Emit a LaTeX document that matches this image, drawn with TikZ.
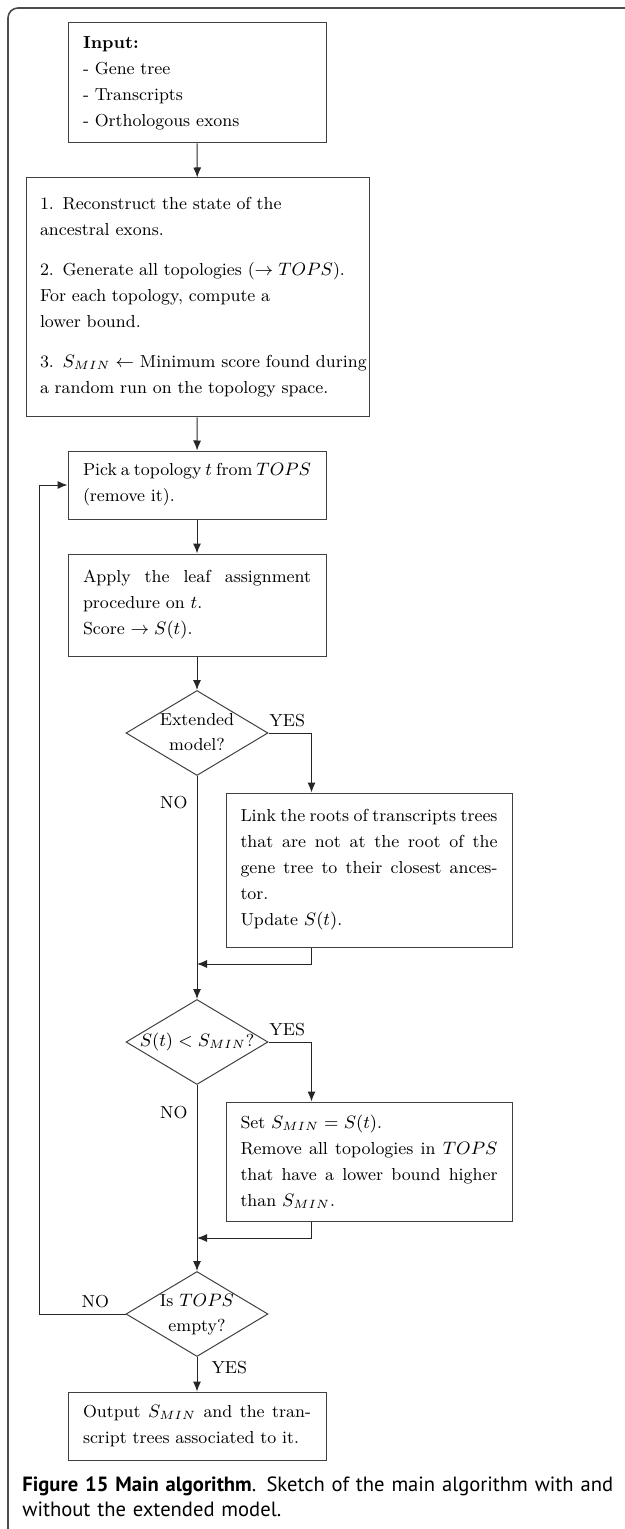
\documentclass[tikz,border=0pt]{standalone}
\usepackage{fontspec}
\newfontfamily\capfont{PT Sans}
\usetikzlibrary{shapes.geometric,arrows.meta,positioning,calc}

% volle Zeile (Blocksatz) mit fester Breite
\newcommand\fline[2]{\leavevmode\hbox to #1{\spaceskip=0pt\xspaceskip=0pt #2}}

\tikzset{
  block/.style={draw=black!75, line width=0.5pt, rectangle, inner xsep=7.5pt, inner ysep=0pt,
    align=left, font=\fontsize{8.7}{13}\selectfont},
  decision/.style={draw=black!75, line width=0.5pt, diamond, inner sep=0pt,
    minimum width=71pt, minimum height=42.5pt},
  flow/.style={draw=black!85, line width=0.5pt, -{Latex[length=5pt,width=4pt]}},
  answer/.style={font=\fontsize{8.7}{11}\selectfont, inner sep=1.5pt},
}

\begin{document}
\begin{tikzpicture}[x=0.5pt,y=-0.5pt]
  \useasboundingbox (0,0) rectangle (625,1529);

  % Rahmen
  \draw[black!70, line width=0.8pt, rounded corners=5pt] (625,8) -- (8,8) -- (8,1529);

  % Kasten oben
  \node[block, text width=114pt, minimum height=60pt] (input) at (197,83)
    {\textbf{Input:}\\- Gene tree\\- Transcripts\\- Orthologous exons};

  \node[block, text width=157.5pt, inner xsep=7pt, minimum height=119.5pt] (steps) at (197.5,297.5)
    {1. Reconstruct the state of the\\ancestral exons.\\[7pt]
     2. Generate all topologies ($\rightarrow TOPS$).\\For each topology, compute a\\lower bound.\\[7pt]
     \mbox{3. $S_{MIN} \leftarrow$ Minimum score found during}\\a random run on the topology space.};

  % Schleife
  \node[block, text width=114pt, minimum height=34pt] (pick) at (197,485)
    {\fline{114pt}{Pick a topology $t$ from $TOPS$}\\(remove it).};
  \node[block, text width=114pt, minimum height=51pt] (apply) at (197,605)
    {\fline{114pt}{Apply the leaf assignment}\\procedure on $t$.\\Score $\rightarrow S(t)$.};

  \node[decision, label={center:{\fontsize{8.7}{12.5}\selectfont\begin{tabular}{@{}c@{}}Extended\\model?\end{tabular}}}] (qext) at (197,733) {};
  \node[block, text width=128.5pt, inner xsep=7.25pt, minimum height=77pt] (link) at (369,870)
    {\fline{128.5pt}{Link the roots of transcripts trees}\\\fline{128.5pt}{that are not at the root of the}\\
     \fline{128.5pt}{gene tree to their closest ances-}\\tor.\\Update $S(t)$.};

  \node[decision, label={center:{\fontsize{8.7}{12.5}\selectfont$S(t) < S_{MIN}$?}}] (qsmin) at (197,1042) {};
  \node[block, text width=128.5pt, inner xsep=7.25pt, minimum height=59.5pt] (set) at (369,1161.5)
    {Set $S_{MIN} = S(t)$.\\\fline{128.5pt}{Remove all topologies in $TOPS$}\\
     \fline{128.5pt}{that have a lower bound higher}\\than $S_{MIN}$.};

  \node[decision, label={center:{\fontsize{8.7}{12.5}\selectfont\begin{tabular}{@{}c@{}}Is $TOPS$\\empty?\end{tabular}}}] (qempty) at (197,1314) {};
  \node[block, text width=114pt, minimum height=34pt] (output) at (197,1426)
    {\fline{114pt}{Output $S_{MIN}$ and the tran-}\\script trees associated to it.};

  % Hilfspunkte
  \path (link.north west) ++(86,0) coordinate (linkin);
  \path (link.south west) ++(86,0) coordinate (linkout);
  \path (set.north west) ++(86,0) coordinate (setin);
  \path (set.south west) ++(86,0) coordinate (setout);
  \coordinate (merge1) at (qext.south |- 0,964);
  \coordinate (merge2) at (qsmin.south |- 0,1238);

  % Pfeile
  \draw[flow] (input) -- (steps);
  \draw[flow] (steps) -- (pick);
  \draw[flow] (pick) -- (apply);
  \draw[flow] (apply) -- (qext);

  \draw[flow] (qext.east) -| node[answer, pos=0.5, anchor=south east, inner sep=3pt] {YES} (linkin);
  \draw[flow] (linkout) |- (merge1);
  \draw[flow] (qext.south) -- node[answer, pos=0.12, left, inner sep=4.5pt] {NO} (qsmin.north);

  \draw[flow] (qsmin.east) -| node[answer, pos=0.5, anchor=south east, inner sep=3pt] {YES} (setin);
  \draw[flow] (setout) |- (merge2);
  \draw[flow] (qsmin.south) -- node[answer, pos=0.15, left, inner sep=4.5pt] {NO} (qempty.north);

  \draw[flow] (qempty.west) -- node[answer, pos=0.35, above, inner sep=3pt] {NO} ++(-86,0) |- (pick.west);
  \draw[flow] (qempty.south) -- node[answer, pos=0.3, right, inner sep=7pt] {YES} (output.north);

  % Bildunterschrift
  \node[anchor=north west, inner sep=0pt, text width=302pt, align=left,
    font=\capfont\fontsize{10.3}{12.5}\selectfont] (caption) at (22,1476)
    {\textbf{Figure 15 Main algorithm}. Sketch of the main algorithm with and\\without the extended model.};
\end{tikzpicture}
\end{document}
